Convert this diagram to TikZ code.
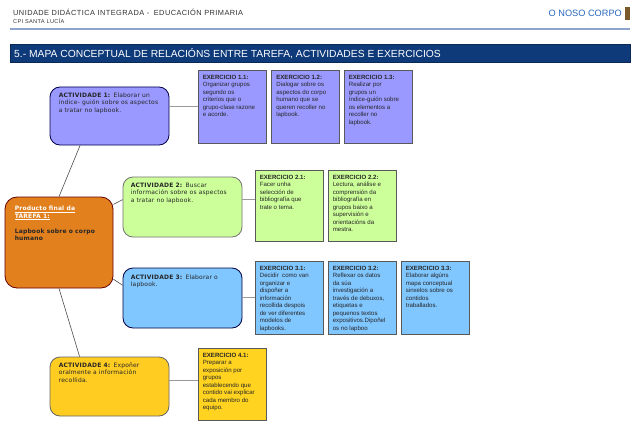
\documentclass[tikz,border=0pt]{standalone}
\usepackage{fontspec}
\setmainfont{Liberation Sans}
\newfontfamily\actfont[LetterSpace=3]{DejaVu Sans}
\newfontfamily\hdrfont[LetterSpace=6]{Liberation Sans}
\usepackage{xcolor}
\definecolor{udiText}{RGB}{51, 51, 51}
\definecolor{udiBlue}{RGB}{40, 104, 190}
\definecolor{udiBrown}{RGB}{122, 90, 42}
\definecolor{udiRule}{RGB}{140, 165, 205}
\definecolor{udiBar}{RGB}{14, 58, 122}
\definecolor{mapLila}{RGB}{153, 153, 255}
\definecolor{mapLime}{RGB}{204, 255, 153}
\definecolor{mapSky}{RGB}{128, 198, 255}
\definecolor{mapOrange}{RGB}{226, 128, 30}
\definecolor{mapYellow}{RGB}{255, 204, 34}
\definecolor{mapGold}{RGB}{255, 211, 32}
\usepackage{tikz}
\usetikzlibrary{
    arrows.meta,
    positioning,
    calc
}

\begin{document}
\begin{tikzpicture}[
    x=1pt, y=-1pt,
    actBox/.style={
        rectangle, rounded corners=10pt,
        line width=0.8pt, inner sep=0pt,
        minimum width=119pt
    },
    exBox/.style={
        rectangle, line width=0.7pt, inner sep=0pt,
        draw=black!65, minimum width=68pt
    },
    actText/.style={
        anchor=north west, inner sep=0pt, align=left, text=black!85,
        font=\actfont\fontsize{6}{7.5}\selectfont
    },
    exText/.style={
        anchor=north west, inner sep=0pt, align=left, text=black!85,
        font=\fontsize{6.1}{7.5}\selectfont
    },
    branchLine/.style={draw=black!70, line width=0.6pt},
    twigLine/.style={draw=black!40, line width=0.8pt}
]
    \useasboundingbox[fill=white] (0,0) rectangle (640,428);

    % Page header
    \node[anchor=west, inner sep=0pt, text=udiText, font=\hdrfont\fontsize{7.4}{8}\selectfont] (hdrUnit) at (13,12) {UNIDADE DIDÁCTICA INTEGRADA -\; EDUCACIÓN PRIMARIA};
    \node[anchor=west, inner sep=0pt, text=udiText, font=\hdrfont\fontsize{5.6}{6}\selectfont] (hdrSchool) at (13,21) {CPI SANTA LUCÍA};
    \node[anchor=east, inner sep=0pt, text=udiBlue, font=\fontsize{9.2}{10}\selectfont] (hdrTopic) at (622,13) {O NOSO CORPO};
    \fill[udiBrown] (625,7) rectangle (630,20);
    \draw[udiRule, line width=1.4pt] (10,29) -- (630,29);

    % Title bar
    \node[rectangle, draw=udiBar!70!black, fill=udiBar, anchor=north west, inner sep=0pt,
          minimum width=620pt, minimum height=18pt] (titleBar) at (10,44) {};
    \node[anchor=west, inner sep=0pt, text=white, font=\fontsize{10.3}{11}\selectfont]
        at (titleBar.west) [xshift=4pt] {5.- MAPA CONCEPTUAL DE RELACIÓNS ENTRE TAREFA, ACTIVIDADES E EXERCICIOS};

    % Final product
    \node[actBox, rounded corners=12pt, draw=red!40!black, fill=mapOrange,
          minimum width=108pt, minimum height=91pt] (prod) at (59,242.5) {};
    \node[actText, font=\actfont\bfseries\fontsize{6}{7.7}\selectfont] at (prod.north west) [xshift=10pt, yshift=-9pt]
        {\textcolor{white}{\underline{Producto final da}}\\
         \textcolor{white}{\underline{TAREFA 1:}}\\[7.5pt]
         Lapbook sobre o corpo\\ humano};

    % Activities
    \node[actBox, draw=blue!30!black, fill=mapLila, minimum height=58pt] (act1) at (109.5,116) {};
    \node[actText] at (act1.north west) [xshift=9pt, yshift=-6pt]
        {\textbf{ACTIVIDADE 1:}\enspace Elaborar un\\ índice- guión sobre os aspectos\\ a tratar no lapbook.};

    \node[actBox, draw=black!55, fill=mapLime, minimum height=60pt] (act2) at (182.5,207) {};
    \node[actText] at (act2.north west) [xshift=8pt, yshift=-6pt]
        {\textbf{ACTIVIDADE 2:}\enspace Buscar\\ información sobre os aspectos\\ a tratar no lapbook.};

    \node[actBox, draw=blue!25!black, fill=mapSky, minimum height=60pt] (act3) at (182.5,298) {};
    \node[actText] at (act3.north west) [xshift=8pt, yshift=-7pt]
        {\textbf{ACTIVIDADE 3:}\enspace Elaborar o\\ lapbook.};

    \node[actBox, draw=black!60, fill=mapYellow, minimum height=59pt] (act4) at (109.5,386.5) {};
    \node[actText] at (act4.north west) [xshift=9pt, yshift=-6pt]
        {\textbf{ACTIVIDADE 4:}\enspace Expoñer\\ oralmente a información\\ recollida.};

    % Exercises of activity 1
    \node[exBox, fill=mapLila, minimum height=73pt] (ex11) at (232,106.5) {};
    \node[exBox, fill=mapLila, minimum height=73pt] (ex12) at (305.5,106.5) {};
    \node[exBox, fill=mapLila, minimum height=73pt] (ex13) at (378,106.5) {};
    \node[exText] at (ex11.north west) [xshift=5pt, yshift=-5pt]
        {\textbf{EXERCICIO 1.1:}\\ Organizar grupos\\ segundo os\\ criterios que o\\ grupo-clase razone\\ e acorde.};
    \node[exText] at (ex12.north west) [xshift=5pt, yshift=-5pt]
        {\textbf{EXERCICIO 1.2:}\\ Dialogar sobre os\\ aspectos do corpo\\ humano que se\\ queren recoller no\\ lapbook.};
    \node[exText] at (ex13.north west) [xshift=5pt, yshift=-5pt]
        {\textbf{EXERCICIO 1.3:}\\ Realizar por\\ grupos un\\ índice-guión sobre\\ os elementos a\\ recoller no\\ lapbook.};

    % Exercises of activity 2
    \node[exBox, fill=mapLime, minimum height=71pt] (ex21) at (289,205.5) {};
    \node[exBox, fill=mapLime, minimum height=71pt] (ex22) at (362,205.5) {};
    \node[exText] at (ex21.north west) [xshift=5pt, yshift=-5pt]
        {\textbf{EXERCICIO 2.1:}\\ Facer unha\\ selección de\\ bibliografía que\\ trate o tema.};
    \node[exText] at (ex22.north west) [xshift=5pt, yshift=-5pt]
        {\textbf{EXERCICIO 2.2:}\\ Lectura, análise e\\ comprensión da\\ bibliografía en\\ grupos baixo a\\ supervisión e\\ orientacións da\\ mestra.};

    % Exercises of activity 3
    \node[exBox, fill=mapSky, minimum height=73pt] (ex31) at (289,297.5) {};
    \node[exBox, fill=mapSky, minimum height=73pt] (ex32) at (362,297.5) {};
    \node[exBox, fill=mapSky, minimum height=73pt] (ex33) at (435,297.5) {};
    \node[exText] at (ex31.north west) [xshift=5pt, yshift=-5pt]
        {\textbf{EXERCICIO 3.1:}\\ Decidir\ \ como van\\ organizar e\\ dispoñer a\\ información\\ recollida despois\\ de ver diferentes\\ modelos de\\ lapbooks.};
    \node[exText] at (ex32.north west) [xshift=5pt, yshift=-5pt]
        {\textbf{EXERCICIO 3.2:}\\ Reflexar os datos\\ da súa\\ investigación a\\ través de debuxos,\\ etiquetas e\\ pequenos textos\\ expositivos.Dipoñel\\ os no lapboo};
    \node[exText] at (ex33.north west) [xshift=5pt, yshift=-5pt]
        {\textbf{EXERCICIO 3.3:}\\ Elaborar algúns\\ mapa conceptual\\ sinxelos sobre os\\ contidos\\ traballados.};

    % Exercise of activity 4
    \node[exBox, fill=mapGold, minimum height=72pt] (ex41) at (232,384) {};
    \node[exText] at (ex41.north west) [xshift=5pt, yshift=-5pt]
        {\textbf{EXERCICIO 4.1:}\\ Preparar a\\ exposición por\\ grupos\\ establecendo que\\ contido vai explicar\\ cada membro do\\ equipo.};

    % Product to activities
    \draw[branchLine] (prod.north) -- (act1.-135);
    \draw[branchLine] (prod.35) -- (act2.173);
    \draw[branchLine] (prod.-34) -- (act3.168);
    \draw[branchLine] (prod.south) -- (act4.135);

    % Activities to exercises
    \coordinate (twig2) at ($(ex21.west)+(0,-6)$);
    \coordinate (twig4) at ($(ex41.west)+(0,-4)$);
    \draw[twigLine] (act1.east |- ex11.west) -- (ex11.west);
    \draw[twigLine] (act2.east |- twig2) -- (twig2);
    \draw[twigLine] (act3.east |- ex31.west) -- (ex31.west);
    \draw[twigLine] (act4.east |- twig4) -- (twig4);

\end{tikzpicture}
\end{document}
